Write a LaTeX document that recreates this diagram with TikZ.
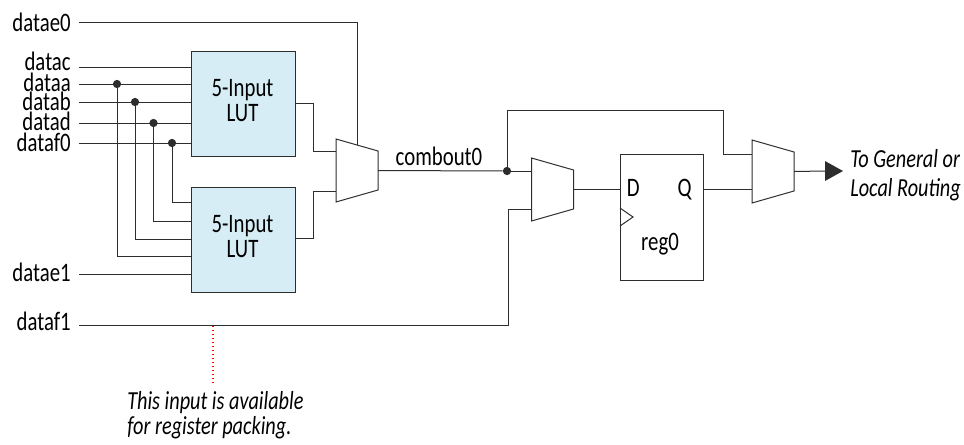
\documentclass[tikz,border=0pt]{standalone}
\usepackage{fontspec}
\usepackage{tikz}
\setmainfont[FakeStretch=0.78]{Carlito}
\definecolor{lutfill}{RGB}{214,237,245}
\definecolor{wire}{RGB}{45,45,45}
\tikzset{
    sig/.style={anchor=base east,inner sep=0pt,inner xsep=6pt,font=\fontsize{20}{20}\selectfont},
    lut/.style={draw=wire,fill=lutfill,line width=0.75pt,minimum width=78pt,minimum height=78.75pt,inner sep=0pt},
    lutname/.style={inner sep=0pt,align=center,font=\fontsize{20}{18.75}\selectfont},
    wires/.style={draw=wire,line width=0.75pt},
    joint/.style={circle,fill=wire,inner sep=0pt,minimum size=6.2pt},
    pin/.style={inner sep=0pt,anchor=base,font=\fontsize{20}{20}\selectfont},
    note/.style={anchor=west,inner sep=0pt,align=left,font=\fontsize{19.5}{18.75}\selectfont\itshape}
}
\newcommand{\muxat}[3]{
    \draw[wires,shift={(#2,#3)}] (-21,-31.5) -- (21,-19.5) -- (21,19.5) -- (-21,31.5) -- cycle
        (21,0) coordinate (#1out) (-21,0) coordinate (#1in);
}

\begin{document}
\begin{tikzpicture}[x=0.75pt,y=-0.75pt]
        \useasboundingbox (0,0) rectangle (964,444);

        \node[lut] (lutA) at (243,103.5) {};
        \node[lut] (lutB) at (243,239.5) {};
        \node[lutname] (lutAname) at (242.5,100.5) {5-Input\\LUT};
        \node[lutname] (lutBname) at (242.5,236.5) {5-Input\\LUT};
        \muxat{muxA}{357}{170.5}
        \muxat{muxB}{552.5}{189.5}
        \muxat{muxC}{773}{171.5}
        \node[draw=wire,line width=0.75pt,minimum width=62.25pt,minimum height=94.5pt,inner sep=0pt] (reg) at (661.5,217) {};
        \node[pin] (regname) at (660,250) {reg0};

        \node[sig] (datae0) at (79,31) {datae0};
        \node[sig] (datac) at (79,70) {datac};
        \node[sig] (dataa) at (79,91) {dataa};
        \node[sig] (datab) at (79,110.5) {datab};
        \node[sig] (datad) at (79,130.5) {datad};
        \node[sig] (dataf0) at (79,151.5) {dataf0};
        \node[sig] (datae1) at (79,281) {datae1};
        \node[sig] (dataf1) at (79,330) {dataf1};

        \draw[wires] (datae0.east |- 0,22) -| (357,145);
        \draw[wires] (datac.east |- 0,67) -- (lutA.west |- 0,67);
        \draw[wires] (datae1.east |- 0,274) -- (lutB.west |- 0,274);

        % tapped inputs go on to the lower LUT
        \foreach \name/\line/\tap/\low in {dataa/84/117/256,datab/102/135/239,datad/123/153.5/221,dataf0/143/172/202} {
            \draw[wires] (\name.east |- 0,\line) -- (lutA.west |- 0,\line);
            \node[joint] (tap\name) at (\tap,\line) {};
            \draw[wires] (tap\name) |- (lutB.west |- 0,\low);
        }

        \draw[wires] (lutA.east) -- (313,103.5) |- (muxAin |- 0,151);
        \draw[wires] (lutB.east |- 0,238) -- (313,238) |- (muxAin |- 0,191);

        \node[joint] (tapcomb) at (507,171) {};
        \node[pin] (comb) at (439,165) {combout0};
        \draw[wires] (muxAout) -- (tapcomb);
        \draw[wires] (tapcomb) -- (muxBin |- tapcomb);
        \draw[wires] (tapcomb) |- (723,110) |- (muxCin |- 0,154);
        \draw[wires] (dataf1.east |- 0,325) -| (508,209) -- (muxBin |- 0,209);
        \draw[wires] (muxBout) -- (reg.west |- muxBout);
        \draw[wires] (reg.east |- 0,189) -- (muxCin |- 0,189);

        \node[pin,anchor=base west] (dpin) at (626.5,196) {D};
        \node[pin,anchor=base east] (qpin) at (692,196) {Q};
        \draw[wires] (620,208) -- (633,217) -- (620,226);

        \coordinate (outtip) at (843,171);
        \draw[wires] (muxCout) -- (825,171);
        \fill[wire] (825,161) -- (outtip) -- (825,181) -- cycle;
        \node[note] (route) at (850,175) {To General or\\[3pt]Local Routing};

        \coordinate (packtop) at (213,326);
        \node[note] (pack) at (127,415) {This input is available\\for register packing.};
        \draw[red,dotted,line width=1pt] (packtop) -- (213,384);
    \end{tikzpicture}
\end{document}
